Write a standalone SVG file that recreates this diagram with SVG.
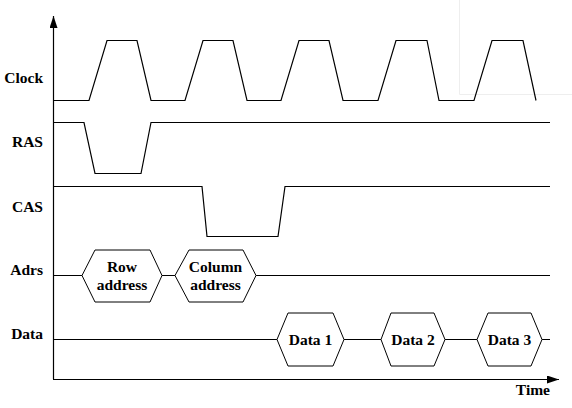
<svg xmlns="http://www.w3.org/2000/svg" width="572" height="408" viewBox="0 0 572 408">
<style>
.sig{fill:none;stroke:#000;stroke-width:1.2}
.hex{fill:#fff;stroke:#000;stroke-width:1}
.lbl{font-family:'Liberation Serif','Times New Roman','DejaVu Serif',serif;font-weight:bold;font-size:15.5px;fill:#000;text-anchor:end}
.ht{font-family:'Liberation Serif','Times New Roman','DejaVu Serif',serif;font-weight:bold;font-size:15.5px;fill:#000;text-anchor:middle}
</style>
<defs>
<marker id="ah" viewBox="0 0 12 8" refX="12" refY="4" markerWidth="12" markerHeight="8" markerUnits="userSpaceOnUse" orient="auto">
<path d="M0,0 L12,4 L0,8 Z" fill="#000"/>
</marker>
</defs>
<rect width="572" height="408" fill="#fff"/>
<path d="M459.5,0 V94.5 H572" fill="none" stroke="#eeeeee" stroke-width="1"/>
<g id="axes">
<line x1="53.5" y1="379" x2="53.5" y2="16" class="sig" marker-end="url(#ah)"/>
<line x1="53" y1="379.5" x2="559" y2="379.5" class="sig" marker-end="url(#ah)"/>
</g>
<g id="labels">
<text x="43" y="83" class="lbl">Clock</text>
<text x="43" y="147" class="lbl">RAS</text>
<text x="43" y="212" class="lbl">CAS</text>
<text x="43" y="275" class="lbl">Adrs</text>
<text x="43" y="339" class="lbl">Data</text>
<text x="550" y="395" class="lbl">Time</text>
</g>
<g id="connectors">
<polyline id="clock" class="sig" points="53,100.5 89,100.5 107,40.5 137,40.5 151,100.5 185,100.5 203,40.5 233,40.5 247,100.5 281,100.5 299,40.5 329,40.5 343,100.5 378,100.5 396,40.5 427,40.5 439,100.5 474,100.5 492,40.5 523,40.5 536,100.5"/>
<polyline id="ras" class="sig" points="53,122.5 84,122.5 95,173.5 141,173.5 151,122.5 550,122.5"/>
<polyline id="cas" class="sig" points="53,186.5 202,186.5 207,236.5 278,236.5 285,186.5 550,186.5"/>
<polyline id="adrs" class="sig" points="53,275.5 550,275.5"/>
<polyline id="data" class="sig" points="53,339.5 550,339.5"/>
</g>
<g id="row-address">
<polygon class="hex" points="82,275.5 95,250 150,250 162,275.5 150,302 95,302"/>
<text x="122" y="272" class="ht">Row</text>
<text x="122" y="290" class="ht">address</text>
</g>
<g id="column-address">
<polygon class="hex" points="175,275.5 189,250 243,250 256,275.5 243,302 189,302"/>
<text x="215.5" y="272" class="ht">Column</text>
<text x="215.5" y="290" class="ht">address</text>
</g>
<g id="data1">
<polygon class="hex" points="277,339.5 288,313 333,313 344,339.5 333,366 288,366"/>
<text x="310.5" y="344.5" class="ht">Data 1</text>
</g>
<g id="data2">
<polygon class="hex" points="381,339.5 391,313 434,313 445,339.5 434,366 391,366"/>
<text x="413" y="344.5" class="ht">Data 2</text>
</g>
<g id="data3">
<polygon class="hex" points="477,339.5 488,313 531,313 542,339.5 531,366 488,366"/>
<text x="509.5" y="344.5" class="ht">Data 3</text>
</g>
</svg>
